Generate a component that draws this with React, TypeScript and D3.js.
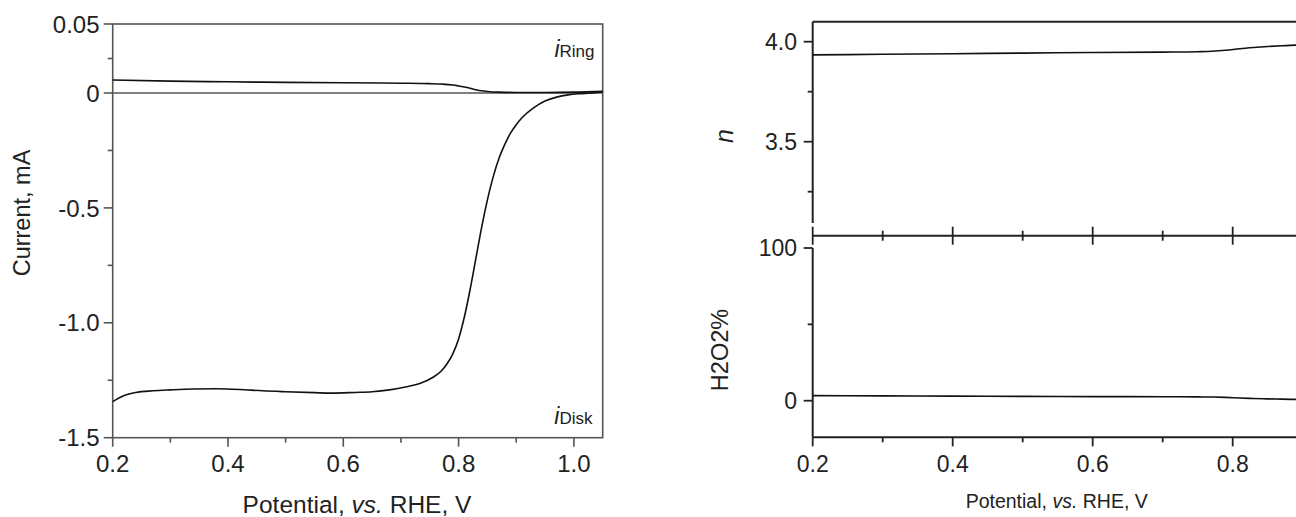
import React from 'react';
import * as d3 from 'd3';

// RRDE linear sweep: disk and ring currents (mA) vs potential (V vs RHE)
const diskPotential = [0.20, 0.21, 0.22, 0.24, 0.27, 0.30, 0.34, 0.38, 0.42, 0.46, 0.50, 0.55, 0.58, 0.62, 0.65, 0.68, 0.71, 0.735, 0.755, 0.77, 0.78, 0.79, 0.80, 0.81, 0.82, 0.83, 0.84, 0.85, 0.86, 0.87, 0.88, 0.89, 0.90, 0.91, 0.93, 0.95, 0.97, 0.99, 1.01, 1.03, 1.05];
const diskCurrent = [-1.343, -1.328, -1.316, -1.303, -1.296, -1.292, -1.288, -1.287, -1.290, -1.296, -1.300, -1.304, -1.306, -1.303, -1.300, -1.292, -1.278, -1.262, -1.238, -1.21, -1.178, -1.135, -1.07, -0.975, -0.855, -0.72, -0.585, -0.465, -0.365, -0.285, -0.225, -0.175, -0.138, -0.108, -0.065, -0.035, -0.018, -0.008, -0.003, 0.0, 0.001];

const ringPotential = [0.20, 0.30, 0.40, 0.50, 0.60, 0.70, 0.75, 0.77, 0.79, 0.80, 0.81, 0.82, 0.83, 0.84, 0.85, 0.87, 0.90, 0.95, 1.00, 1.05];
const ringCurrent = [0.0094, 0.0086, 0.0081, 0.0077, 0.0074, 0.0071, 0.0068, 0.0065, 0.0058, 0.0051, 0.0043, 0.0034, 0.0024, 0.0016, 0.0011, 0.0006, 0.0004, 0.0004, 0.0006, 0.0012];

// Electron transfer number and peroxide yield
const kinPotential = [0.20, 0.30, 0.40, 0.50, 0.60, 0.70, 0.75, 0.77, 0.79, 0.81, 0.83, 0.85, 0.87, 0.89, 0.95, 1.00, 1.05];
const electronNumber = [3.934, 3.937, 3.940, 3.943, 3.946, 3.948, 3.950, 3.952, 3.957, 3.965, 3.971, 3.976, 3.980, 3.983, 3.986, 3.988, 3.989];
const peroxidePct = [3.3, 3.15, 3.0, 2.85, 2.7, 2.6, 2.5, 2.4, 2.15, 1.75, 1.45, 1.2, 1.0, 0.85, 0.7, 0.6, 0.55];

// Axis ticks
const xMajor = [0.2, 0.4, 0.6, 0.8, 1.0];
const xMajorLabels = ['0.2', '0.4', '0.6', '0.8', '1.0'];
const xMinor = [0.3, 0.5, 0.7, 0.9];
const currentMajor = [0.05, 0, -0.5, -1.0, -1.5];
const currentLabels = ['0.05', '0', '-0.5', '-1.0', '-1.5'];
const currentMinor = [0.025, -0.25, -0.75, -1.25];
const nMajor = [4.0, 3.5];
const nLabels = ['4.0', '3.5'];
const nMinor = [3.75, 3.25];
const pctMajor = [100, 0];
const pctLabels = ['100', '0'];
const pctMinor = [50];

const FONT = '"Liberation Sans", Arial, Helvetica, sans-serif';
const WIDTH = 1296;
const HEIGHT = 517;

export default function App() {
  // Left panel: currents, split y-scale (expanded above zero)
  const xL = d3.scaleLinear().domain([0.2, 1.05]).range([112.7, 602.7]);
  const yL = d3.scaleLinear().domain([-1.5, 0, 0.05]).range([437.7, 93, 24]);

  // Right panel: n (top) and H2O2% (bottom); it runs past the page edge
  const xR = d3.scaleLinear().domain([0.2, 1.05]).range([812.7, 1407.7]);
  const yN = d3.scaleLinear().domain([3.5, 4.0]).range([141.7, 41.7]);
  const yP = d3.scaleLinear().domain([0, 100]).range([400.7, 248]);

  const lineL = (xs: number[], ys: number[]) =>
    d3.line<number>()
      .x((_, i) => xL(xs[i]))
      .y((d) => yL(d))
      .curve(d3.curveMonotoneX)(ys) || '';

  const lineR = (ys: number[], sc: d3.ScaleLinear<number, number>) =>
    d3.line<number>()
      .x((_, i) => xR(kinPotential[i]))
      .y((d) => sc(d))
      .curve(d3.curveMonotoneX)(ys) || '';

  const leftFrame = '#555';
  const rightAxis = '#222';
  const curve = '#111';

  const lTop = yL(0.05);
  const lBot = yL(-1.5);
  const lLeft = xL(0.2);
  const lRight = xL(1.05);

  const nTop = yN(4.1);
  const nBottom = 223;
  const midY = 235.7;
  const pTop = yP(100);
  const pBottom = yP(-24);
  const rLeft = xR(0.2);
  const rRight = xR(1.05);

  return (
    <svg
      width={WIDTH}
      height={HEIGHT}
      style={{ position: 'absolute', left: 0, top: 0, background: '#fff' }}
      fontFamily={FONT}
    >
      <rect x={0} y={0} width={WIDTH} height={HEIGHT} fill="#fff" />

      {/* ---------- Left panel ---------- */}
      <rect x={lLeft} y={lTop} width={lRight - lLeft} height={lBot - lTop}
        fill="none" stroke={leftFrame} strokeWidth={1.6} />
      <line x1={lLeft} x2={lRight} y1={yL(0)} y2={yL(0)} stroke={leftFrame} strokeWidth={1.4} />

      {currentMajor.map((v, i) => (
        <g key={'cm' + i}>
          <line x1={lLeft - 9} x2={lLeft} y1={yL(v)} y2={yL(v)} stroke={leftFrame} strokeWidth={1.6} />
          <text x={99.5} y={yL(v)} dy="0.36em" textAnchor="end" fontSize={24} fill="#222">{currentLabels[i]}</text>
        </g>
      ))}
      {currentMinor.map((v, i) => (
        <line key={'cn' + i} x1={lLeft - 5} x2={lLeft} y1={yL(v)} y2={yL(v)} stroke={leftFrame} strokeWidth={1.6} />
      ))}
      {xMajor.map((v, i) => (
        <g key={'lx' + i}>
          <line x1={xL(v)} x2={xL(v)} y1={lBot} y2={lBot + 9} stroke={leftFrame} strokeWidth={1.6} />
          <text x={xL(v)} y={472} textAnchor="middle" fontSize={24} fill="#222">{xMajorLabels[i]}</text>
        </g>
      ))}
      {xMinor.map((v, i) => (
        <line key={'lxm' + i} x1={xL(v)} x2={xL(v)} y1={lBot} y2={lBot + 5} stroke={leftFrame} strokeWidth={1.6} />
      ))}

      <path d={lineL(ringPotential, ringCurrent)} fill="none" stroke={curve} strokeWidth={1.6} />
      <path d={lineL(diskPotential, diskCurrent)} fill="none" stroke={curve} strokeWidth={1.6} />

      <text x={594.5} y={57} textAnchor="end" fill="#222">
        <tspan fontStyle="italic" fontSize={23}>i</tspan>
        <tspan fontSize={17}>Ring</tspan>
      </text>
      <text x={592.5} y={424} textAnchor="end" fill="#222">
        <tspan fontStyle="italic" fontSize={23}>i</tspan>
        <tspan fontSize={17}>Disk</tspan>
      </text>

      <text x={357} y={513} textAnchor="middle" fontSize={24.5} fill="#222">
        Potential, <tspan fontStyle="italic">vs.</tspan> RHE, V
      </text>
      <text transform="translate(29.5,213) rotate(-90)" textAnchor="middle" fontSize={23.5} fill="#222">
        Current, mA
      </text>

      {/* ---------- Right panel ---------- */}
      {/* top: n */}
      <line x1={rLeft} x2={rRight} y1={nTop} y2={nTop} stroke={rightAxis} strokeWidth={2} />
      <line x1={rLeft} x2={rLeft} y1={nTop} y2={nBottom} stroke={rightAxis} strokeWidth={2} />
      <line x1={rRight} x2={rRight} y1={nTop} y2={nBottom} stroke={rightAxis} strokeWidth={2} />
      {nMajor.map((v, i) => (
        <g key={'nm' + i}>
          <line x1={rLeft - 9} x2={rLeft} y1={yN(v)} y2={yN(v)} stroke={rightAxis} strokeWidth={1.8} />
          <text x={797} y={yN(v)} dy="0.36em" textAnchor="end" fontSize={23} fill="#222">{nLabels[i]}</text>
        </g>
      ))}
      {nMinor.map((v, i) => (
        <line key={'nn' + i} x1={rLeft - 5} x2={rLeft} y1={yN(v)} y2={yN(v)} stroke={rightAxis} strokeWidth={1.8} />
      ))}

      {/* shared break axis */}
      <line x1={rLeft} x2={rRight} y1={midY} y2={midY} stroke={rightAxis} strokeWidth={2} />
      {xMajor.map((v, i) => (
        <line key={'mm' + i} x1={xR(v)} x2={xR(v)} y1={midY - 9} y2={midY + 9} stroke={rightAxis} strokeWidth={1.8} />
      ))}
      {xMinor.map((v, i) => (
        <line key={'mn' + i} x1={xR(v)} x2={xR(v)} y1={midY - 5} y2={midY + 5} stroke={rightAxis} strokeWidth={1.8} />
      ))}

      {/* bottom: H2O2 % */}
      <line x1={rLeft} x2={rLeft} y1={pTop} y2={pBottom} stroke={rightAxis} strokeWidth={2} />
      <line x1={rLeft} x2={rRight} y1={pBottom} y2={pBottom} stroke={rightAxis} strokeWidth={2} />
      {pctMajor.map((v, i) => (
        <g key={'pm' + i}>
          <line x1={rLeft - 9} x2={rLeft} y1={yP(v)} y2={yP(v)} stroke={rightAxis} strokeWidth={1.8} />
          <text x={797} y={yP(v)} dy="0.36em" textAnchor="end" fontSize={23} fill="#222">{pctLabels[i]}</text>
        </g>
      ))}
      {pctMinor.map((v, i) => (
        <line key={'pn' + i} x1={rLeft - 5} x2={rLeft} y1={yP(v)} y2={yP(v)} stroke={rightAxis} strokeWidth={1.8} />
      ))}
      {xMajor.map((v, i) => (
        <g key={'rx' + i}>
          <line x1={xR(v)} x2={xR(v)} y1={pBottom} y2={pBottom + 9} stroke={rightAxis} strokeWidth={1.8} />
          {xR(v) + 20 < WIDTH && (
            <text x={xR(v)} y={472} textAnchor="middle" fontSize={23} fill="#222">{xMajorLabels[i]}</text>
          )}
        </g>
      ))}
      {xMinor.map((v, i) => (
        <line key={'rxm' + i} x1={xR(v)} x2={xR(v)} y1={pBottom} y2={pBottom + 5} stroke={rightAxis} strokeWidth={1.8} />
      ))}

      <path d={lineR(electronNumber, yN)} fill="none" stroke={curve} strokeWidth={1.6} />
      <path d={lineR(peroxidePct, yP)} fill="none" stroke={curve} strokeWidth={1.6} />

      <text transform="translate(733,136) rotate(-90)" textAnchor="middle" fontSize={25} fontStyle="italic" fill="#222">n</text>
      <text transform="translate(727.5,350) rotate(-90)" textAnchor="middle" fontSize={23.5} fill="#222">H2O2%</text>
      <text x={1056.7} y={508} textAnchor="middle" fontSize={19.5} fill="#222">
        Potential, <tspan fontStyle="italic">vs.</tspan> RHE, V
      </text>
    </svg>
  );
}
